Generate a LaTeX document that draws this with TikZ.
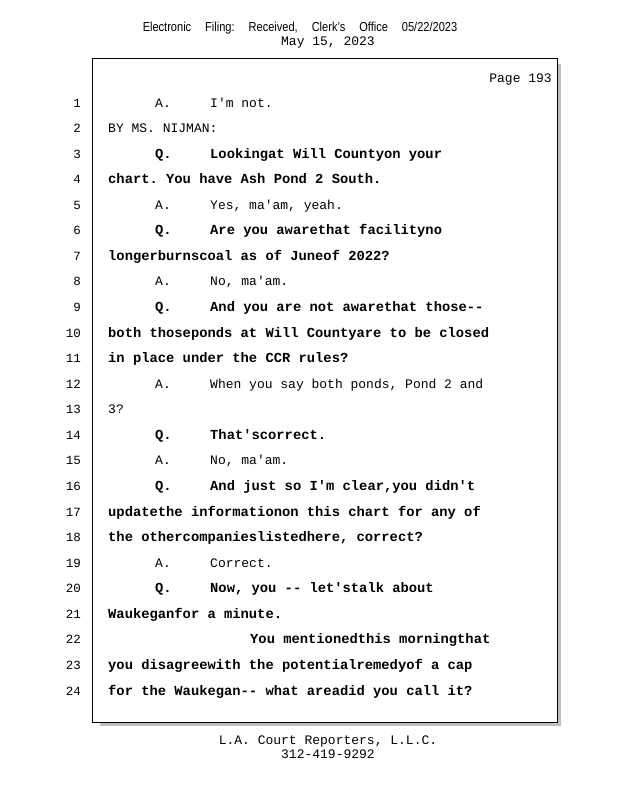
\documentclass[tikz,border=0pt]{standalone}
\usepackage{fontspec}
\setmonofont{Liberation Mono}
\setsansfont{Liberation Sans}
\newcommand{\lineY}[1]{107+(#1-1)*25.57}
\begin{document}
\begin{tikzpicture}[x=1pt,y=-1pt,
  num/.style = {anchor=base east, inner sep=0pt, font=\ttfamily\fontsize{12.5}{14}\selectfont},
  plain/.style = {anchor=base west, inner sep=0pt, font=\ttfamily\fontsize{13}{15}\selectfont},
  strong/.style = {anchor=base west, inner sep=0pt, font=\ttfamily\bfseries\fontsize{13.8}{15}\selectfont},
  head/.style = {anchor=base, inner sep=0pt, font=\sffamily\fontsize{13}{15}\selectfont}]
  \useasboundingbox (0,0) rectangle (618,800);
  \fill[white] (0,0) rectangle (618,800);
  % page frame with shadow
  \fill[black!25] (100,64) rectangle (561,726);
  \draw[fill=white, line width=1pt] (92,59) rectangle (557,722);
  % header and footer
  \node[head] (filing) at (300,32) {\scalebox{0.85}[1]{\makebox[370pt][s]{Electronic\hfill Filing:\hfill Received,\hfill Clerk's\hfill Office\hfill 05/22/2023}}};
  \node[plain, anchor=base] (date) at (328,46) {May 15, 2023};
  \node[plain, anchor=base east] (page) at (552,82) {Page 193};
  \node[plain, anchor=base] (firm) at (328,744) {L.A. Court Reporters, L.L.C.};
  \node[plain, anchor=base] (phone) at (328,758) {312-419-9292};
  % line numbers
  \foreach \i in {1,...,24}
    \node[num] (n\i) at (81,{\lineY{\i}}) {\i};
  % transcript
  \node[plain] (s1) at (155,{\lineY{1}}) {A.};
  \node[plain] (t1) at (210,{\lineY{1}}) {I'm not.};
  \node[plain] (t2) at (108,{\lineY{2}}) {BY MS. NIJMAN:};
  \node[strong] (s3) at (155,{\lineY{3}}) {Q.};
  \node[strong] (t3) at (210,{\lineY{3}}) {Lookingat Will Countyon your};
  \node[strong] (t4) at (108,{\lineY{4}}) {chart. You have Ash Pond 2 South.};
  \node[plain] (s5) at (155,{\lineY{5}}) {A.};
  \node[plain] (t5) at (210,{\lineY{5}}) {Yes, ma'am, yeah.};
  \node[strong] (s6) at (155,{\lineY{6}}) {Q.};
  \node[strong] (t6) at (210,{\lineY{6}}) {Are you awarethat facilityno};
  \node[strong] (t7) at (108,{\lineY{7}}) {longerburnscoal as of Juneof 2022?};
  \node[plain] (s8) at (155,{\lineY{8}}) {A.};
  \node[plain] (t8) at (210,{\lineY{8}}) {No, ma'am.};
  \node[strong] (s9) at (155,{\lineY{9}}) {Q.};
  \node[strong] (t9) at (210,{\lineY{9}}) {And you are not awarethat those--};
  \node[strong] (t10) at (108,{\lineY{10}}) {both thoseponds at Will Countyare to be closed};
  \node[strong] (t11) at (108,{\lineY{11}}) {in place under the CCR rules?};
  \node[plain] (s12) at (155,{\lineY{12}}) {A.};
  \node[plain] (t12) at (210,{\lineY{12}}) {When you say both ponds, Pond 2 and};
  \node[plain] (t13) at (108,{\lineY{13}}) {3?};
  \node[strong] (s14) at (155,{\lineY{14}}) {Q.};
  \node[strong] (t14) at (210,{\lineY{14}}) {That'scorrect.};
  \node[plain] (s15) at (155,{\lineY{15}}) {A.};
  \node[plain] (t15) at (210,{\lineY{15}}) {No, ma'am.};
  \node[strong] (s16) at (155,{\lineY{16}}) {Q.};
  \node[strong] (t16) at (210,{\lineY{16}}) {And just so I'm clear,you didn't};
  \node[strong] (t17) at (108,{\lineY{17}}) {updatethe informationon this chart for any of};
  \node[strong] (t18) at (108,{\lineY{18}}) {the othercompanieslistedhere, correct?};
  \node[plain] (s19) at (155,{\lineY{19}}) {A.};
  \node[plain] (t19) at (210,{\lineY{19}}) {Correct.};
  \node[strong] (s20) at (155,{\lineY{20}}) {Q.};
  \node[strong] (t20) at (210,{\lineY{20}}) {Now, you -- let'stalk about};
  \node[strong] (t21) at (108,{\lineY{21}}) {Waukeganfor a minute.};
  \node[strong] (t22) at (250,{\lineY{22}}) {You mentionedthis morningthat};
  \node[strong] (t23) at (108,{\lineY{23}}) {you disagreewith the potentialremedyof a cap};
  \node[strong] (t24) at (108,{\lineY{24}}) {for the Waukegan-- what areadid you call it?};
\end{tikzpicture}
\end{document}
